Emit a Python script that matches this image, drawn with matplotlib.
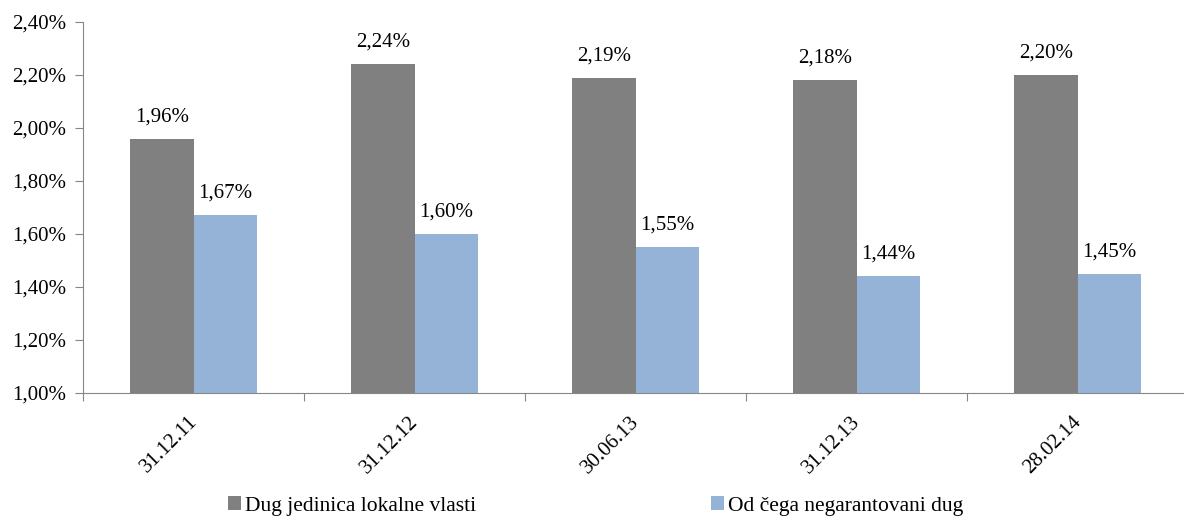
import matplotlib.pyplot as plt
import numpy as np
from matplotlib.ticker import FuncFormatter

plt.rcParams['font.family'] = ['Liberation Serif', 'DejaVu Serif']

dates = ["31.12.11", "31.12.12", "30.06.13", "31.12.13", "28.02.14"]
dug = [1.96, 2.24, 2.19, 2.18, 2.20]
negarant = [1.67, 1.60, 1.55, 1.44, 1.45]
names = ["Dug jedinica lokalne vlasti", "Od čega negarantovani dug"]

fig = plt.figure(figsize=(11.84, 5.16), dpi=100)
ax = fig.add_axes([83 / 1184, 123 / 516, 1105 / 1184, 371 / 516])

x = np.arange(len(dates))
w = 0.286
b1 = ax.bar(x - w / 2, dug, w, color="#808080", label=names[0])
b2 = ax.bar(x + w / 2, negarant, w, color="#95B3D7", label=names[1])

for bars in (b1, b2):
    for r in bars:
        h = r.get_height()
        ax.annotate(f"{h:.2f}%".replace(".", ","),
                    (r.get_x() + r.get_width() / 2, h),
                    xytext=(0, 9), textcoords="offset points",
                    ha="center", va="bottom", fontsize=15)

ax.set_ylim(1.0, 2.4)
ax.set_yticks(np.arange(1.0, 2.41, 0.2))
ax.yaxis.set_major_formatter(FuncFormatter(lambda v, p: f"{v:.2f}%".replace(".", ",")))
ax.set_xlim(-0.5, 4.5)
ax.set_xticks(np.arange(-0.5, 4.6, 1))
ax.set_xticklabels([])
for xi, d in zip(x, dates):
    ax.text(xi + 0.005, -0.07, d, rotation=45, rotation_mode="anchor",
            ha="right", va="center", fontsize=15,
            transform=ax.get_xaxis_transform())

for s in ("top", "right"):
    ax.spines[s].set_visible(False)
for s in ("left", "bottom"):
    ax.spines[s].set_color("#868686")
ax.tick_params(axis="both", colors="#868686", length=6, labelsize=15, labelcolor="black")
ax.tick_params(axis="y", pad=6)

ax.legend(loc="center left", bbox_to_anchor=((228 - 83) / 1105, -0.305),
          ncol=2, frameon=False, fontsize=15.5, handlelength=0.6, handleheight=0.6,
          handletextpad=0.2, columnspacing=10.9, borderpad=0, borderaxespad=0)

fig.savefig("out.png", dpi=100)
